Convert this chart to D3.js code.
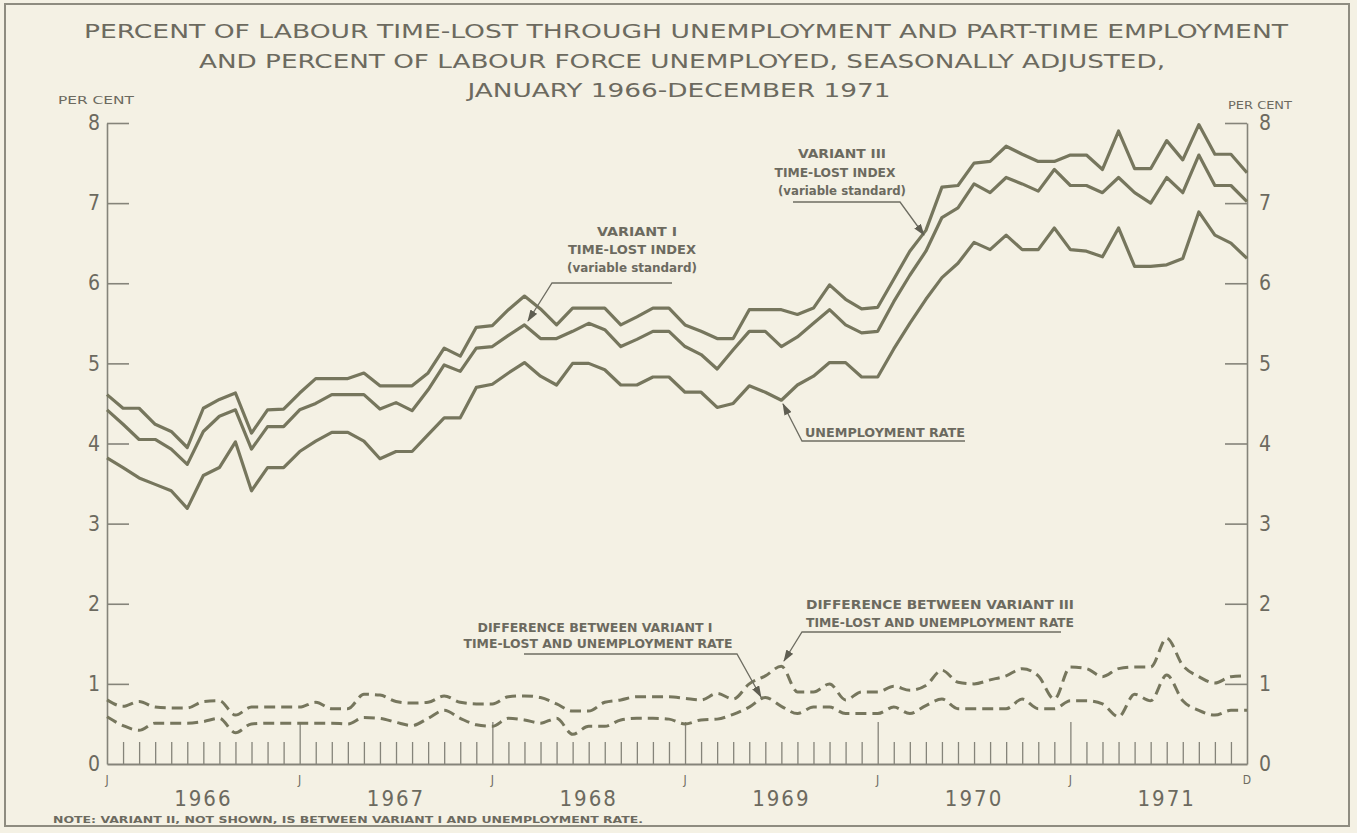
<!DOCTYPE html>
<html>
<head>
<meta charset="utf-8">
<script src="https://cdn.jsdelivr.net/npm/d3@7"></script>
<style>
  html, body { margin: 0; padding: 0; background: #f4f1e4; }
  svg { display: block; }
  text { fill: #6c6a5f; }
</style>
</head>
<body>
<svg id="chart" width="1357" height="833"></svg>
<script>
// Monthly series, January 1966 - December 1971 (per cent, seasonally adjusted)
const startMonth = new Date(Date.UTC(1966, 0, 1));
const endMonth = new Date(Date.UTC(1972, 0, 1));

const variant3 = [
  4.61,4.44,4.44,4.24,4.15,3.95,4.44,4.55,4.63,4.13,4.42,4.43,
  4.63,4.81,4.81,4.81,4.88,4.72,4.72,4.72,4.88,5.19,5.09,5.45,
  5.47,5.67,5.84,5.68,5.48,5.69,5.69,5.69,5.48,5.58,5.69,5.69,
  5.48,5.40,5.31,5.31,5.67,5.67,5.67,5.61,5.69,5.98,5.80,5.68,
  5.70,6.05,6.40,6.66,7.20,7.22,7.50,7.52,7.71,7.61,7.52,7.52,
  7.60,7.60,7.42,7.90,7.43,7.43,7.78,7.54,7.98,7.61,7.61,7.38
];
const variant1 = [
  4.42,4.24,4.05,4.05,3.93,3.74,4.15,4.34,4.42,3.93,4.21,4.21,
  4.42,4.50,4.61,4.61,4.61,4.43,4.51,4.41,4.67,4.98,4.90,5.19,
  5.21,5.35,5.48,5.31,5.31,5.40,5.50,5.42,5.21,5.30,5.40,5.40,
  5.21,5.11,4.93,5.17,5.40,5.40,5.21,5.33,5.50,5.67,5.48,5.38,
  5.40,5.77,6.10,6.40,6.82,6.94,7.24,7.13,7.32,7.24,7.15,7.42,
  7.22,7.22,7.13,7.32,7.13,7.00,7.32,7.13,7.60,7.22,7.22,7.02
];
const unemployment = [
  3.82,3.70,3.57,3.49,3.41,3.19,3.60,3.70,4.02,3.41,3.70,3.70,
  3.90,4.03,4.14,4.14,4.03,3.81,3.90,3.90,4.11,4.32,4.32,4.70,
  4.74,4.88,5.01,4.84,4.73,5.00,5.00,4.92,4.73,4.73,4.83,4.83,
  4.64,4.64,4.45,4.50,4.72,4.64,4.54,4.73,4.84,5.01,5.01,4.83,
  4.83,5.18,5.50,5.80,6.07,6.25,6.51,6.42,6.60,6.42,6.42,6.69,
  6.42,6.40,6.33,6.69,6.21,6.21,6.23,6.31,6.89,6.60,6.50,6.31
];
const diffVariant3 = [
  0.80,0.72,0.78,0.71,0.70,0.70,0.78,0.79,0.61,0.71,0.71,0.71,
  0.71,0.77,0.69,0.69,0.87,0.86,0.78,0.76,0.77,0.85,0.77,0.75,
  0.75,0.84,0.85,0.83,0.75,0.66,0.66,0.77,0.80,0.84,0.84,0.84,
  0.82,0.80,0.88,0.81,1.00,1.10,1.22,0.90,0.90,1.00,0.80,0.90,
  0.90,0.97,0.92,0.98,1.17,1.02,1.00,1.05,1.10,1.19,1.10,0.81,
  1.21,1.19,1.09,1.19,1.21,1.21,1.57,1.23,1.09,1.01,1.09,1.10
];
const diffVariant1 = [
  0.59,0.48,0.42,0.51,0.51,0.51,0.53,0.57,0.39,0.50,0.51,0.51,
  0.51,0.51,0.51,0.50,0.58,0.57,0.52,0.48,0.57,0.67,0.57,0.49,
  0.47,0.57,0.55,0.51,0.57,0.37,0.47,0.47,0.55,0.57,0.57,0.56,
  0.50,0.55,0.56,0.62,0.71,0.83,0.72,0.63,0.71,0.71,0.63,0.63,
  0.63,0.71,0.63,0.73,0.81,0.69,0.69,0.69,0.69,0.81,0.69,0.69,
  0.79,0.79,0.75,0.59,0.87,0.79,1.11,0.79,0.67,0.61,0.67,0.67
];

const yTicks = [0, 1, 2, 3, 4, 5, 6, 7, 8];
const yearLabels = ["1966", "1967", "1968", "1969", "1970", "1971"];
const titleLines = [
  "PERCENT OF LABOUR TIME-LOST THROUGH UNEMPLOYMENT  AND PART-TIME EMPLOYMENT",
  "AND PERCENT OF LABOUR FORCE UNEMPLOYED, SEASONALLY ADJUSTED,",
  "JANUARY 1966-DECEMBER 1971"
];
const noteText = "NOTE: VARIANT II, NOT SHOWN, IS BETWEEN VARIANT I AND UNEMPLOYMENT RATE.";

// ---- layout ----
const INK = "#76765d";
const TEXT = "#6c6a5f";
const FONT = "'Liberation Sans Narrow', 'DejaVu Sans Condensed', 'Liberation Sans', sans-serif";
const plot = { left: 107, right: 1247, top: 123, bottom: 764 };

const svg = d3.select("#chart");
const months = d3.utcMonths(startMonth, endMonth);   // 72 months

const x = d3.scalePoint().domain(months).range([plot.left, plot.right]);
const y = d3.scaleLinear().domain([0, 8]).range([plot.bottom, plot.top]);

// border frame
svg.append("rect")
  .attr("x", 5).attr("y", 4).attr("width", 1344).attr("height", 822)
  .attr("fill", "none").attr("stroke", "#8e8c80").attr("stroke-width", 2);

// helper for fitted text
function label(txt, cx, baseline, size, width, opts = {}) {
  const t = svg.append("text")
    .attr("x", cx).attr("y", baseline)
    .attr("text-anchor", opts.anchor || "middle")
    .attr("font-family", opts.family || FONT)
    .attr("font-size", size)
    .attr("font-weight", opts.weight || "normal")
    .attr("fill", TEXT)
    .text(txt);
  if (width) t.attr("textLength", width).attr("lengthAdjust", opts.adjust || "spacingAndGlyphs");
  return t;
}

// title
const titleGeom = [
  { cx: 686, base: 38, w: 1204 },
  { cx: 682, base: 68, w: 966 },
  { cx: 679, base: 97, w: 423 }
];
titleLines.forEach((s, i) => label(s, titleGeom[i].cx, titleGeom[i].base, 19, titleGeom[i].w));

label("PER CENT", 96, 104, 11, 76);
label("PER CENT", 1260, 109, 11, 64);

// y axes
const axisStyle = g => {
  g.selectAll("path, line").attr("stroke", "#85847a").attr("stroke-width", 1.6);
  g.selectAll("text").attr("font-family", FONT).attr("font-size", 21).attr("fill", TEXT);
};
svg.append("g")
  .attr("transform", `translate(${plot.left},0)`)
  .call(d3.axisLeft(y).tickValues(yTicks).tickSize(-22).tickSizeOuter(0).tickPadding(7).tickFormat(d3.format("d")))
  .call(axisStyle)
  .call(g => g.select(".tick:first-of-type line").remove());

svg.append("g")
  .attr("transform", `translate(${plot.right},0)`)
  .call(d3.axisRight(y).tickValues(yTicks).tickSize(-22).tickSizeOuter(0).tickPadding(12).tickFormat(d3.format("d")))
  .call(axisStyle)
  .call(g => g.select(".tick:first-of-type line").remove());

// month ticks along the base line
const innerMonths = months.slice(1, months.length - 1);
svg.append("g")
  .attr("transform", `translate(0,${plot.bottom})`)
  .call(d3.axisBottom(x).tickValues(innerMonths).tickSize(-22).tickSizeOuter(0).tickFormat(""))
  .call(g => {
    g.select("path").attr("stroke", "#85847a").attr("stroke-width", 1.8);
    g.selectAll("line").attr("stroke", "#85847a").attr("stroke-width", 1.3)
      .attr("y2", d => d.getUTCMonth() === 0 ? -42 : -22);
  });

// month initials under the axis
const monthMarks = months.filter((m, i) => m.getUTCMonth() === 0 || i === months.length - 1);
svg.append("g").selectAll("text")
  .data(monthMarks)
  .join("text")
  .attr("x", d => x(d))
  .attr("y", plot.bottom + 20)
  .attr("text-anchor", "middle")
  .attr("font-family", FONT)
  .attr("font-size", 12)
  .attr("fill", TEXT)
  .text(d => d.getUTCMonth() === 0 ? "J" : "D");

// year labels centred on July
svg.append("g").selectAll("text")
  .data(yearLabels)
  .join("text")
  .attr("x", (d, i) => x(months[i * 12 + 6]))
  .attr("y", plot.bottom + 42)
  .attr("text-anchor", "middle")
  .attr("font-family", FONT)
  .attr("font-size", 22)
  .attr("letter-spacing", 2)
  .attr("fill", TEXT)
  .text(d => d);

label(noteText, 53, 823, 9.5, 590, { anchor: "start", weight: "bold" });

// series
const lineGen = d3.line().x((d, i) => x(months[i])).y(d => y(d));
const dashGen = d3.line().x((d, i) => x(months[i])).y(d => y(d)).curve(d3.curveMonotoneX);

[variant3, variant1, unemployment].forEach(series => {
  svg.append("path").datum(series)
    .attr("d", lineGen)
    .attr("fill", "none").attr("stroke", INK)
    .attr("stroke-width", 3.2).attr("stroke-linejoin", "round");
});
[diffVariant3, diffVariant1].forEach(series => {
  svg.append("path").datum(series)
    .attr("d", dashGen)
    .attr("fill", "none").attr("stroke", INK)
    .attr("stroke-width", 3).attr("stroke-dasharray", "11,6");
});

// annotation leaders with arrowheads
svg.append("defs").append("marker")
  .attr("id", "arrow").attr("viewBox", "0 0 12 8")
  .attr("refX", 11).attr("refY", 4)
  .attr("markerWidth", 12).attr("markerHeight", 8)
  .attr("markerUnits", "userSpaceOnUse")
  .attr("orient", "auto")
  .append("path").attr("d", "M0,0 L12,4 L0,8 Z").attr("fill", "#5f5e52");

const leaders = [
  [[793, 202], [900, 202], [924, 235]],
  [[672, 283], [552, 283], [528, 321]],
  [[965, 441], [802, 441], [783, 404]],
  [[524, 654], [737, 654], [761, 697]],
  [[1061, 632], [802, 632], [784, 661]]
];
leaders.forEach(pts => {
  svg.append("path")
    .attr("d", d3.line()(pts))
    .attr("fill", "none").attr("stroke", "#6e6d62").attr("stroke-width", 1.3)
    .attr("marker-end", "url(#arrow)");
});

// annotation text
const annoOpts = { weight: "bold" };
label("VARIANT III", 842, 158, 13, 88, annoOpts);
label("TIME-LOST INDEX", 835, 177, 13, 121, annoOpts);
label("(variable standard)", 842, 195, 12, 128, annoOpts);

label("VARIANT I", 637, 236, 13, 80, annoOpts);
label("TIME-LOST INDEX", 632, 254, 13, 128, annoOpts);
label("(variable standard)", 632, 272, 12, 130, annoOpts);

label("UNEMPLOYMENT RATE", 885, 437, 12, 160, annoOpts);

label("DIFFERENCE BETWEEN VARIANT I", 595, 632, 12.5, 235, annoOpts);
label("TIME-LOST AND UNEMPLOYMENT RATE", 598, 648, 12.5, 269, annoOpts);

label("DIFFERENCE BETWEEN VARIANT III", 940, 609, 12.5, 268, annoOpts);
label("TIME-LOST AND UNEMPLOYMENT RATE", 940, 627, 12.5, 268, annoOpts);
</script>
</body>
</html>
